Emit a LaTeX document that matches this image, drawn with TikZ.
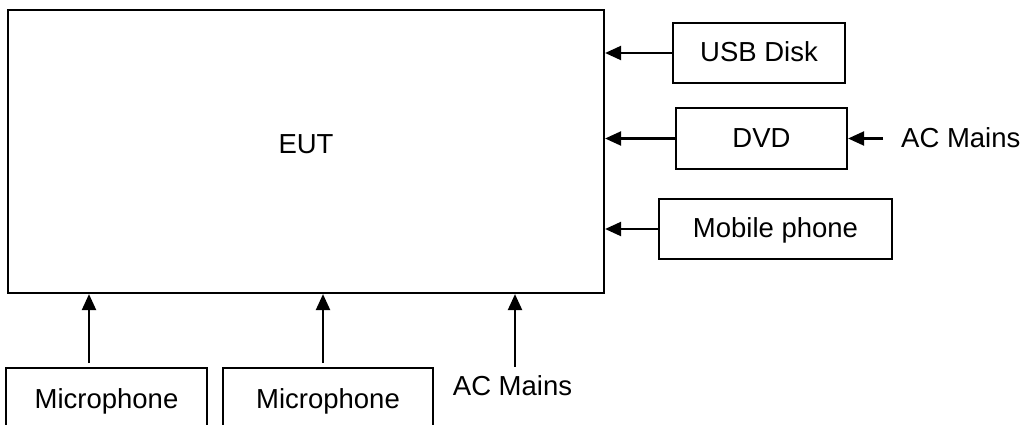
\documentclass[tikz,border=0pt]{standalone}
\usepackage{fontspec}
\setmainfont{Liberation Sans}
\usetikzlibrary{arrows.meta,calc}
\begin{document}
\begin{tikzpicture}[x=1pt,y=-1pt,
  every node/.style={font=\fontsize{27.5}{33}\selectfont},
  box/.style={draw, line width=2.2pt, inner sep=0pt, text height=20pt, text depth=3pt, align=center},
  plain/.style={inner sep=0pt, text height=20pt, text depth=6pt},
  arr/.style={line width=2.2pt, -{Triangle[length=16pt,width=14pt]}}]
\useasboundingbox (0,0) rectangle (1024,425);
\clip (0,0) rectangle (1024,425);
\node[box, minimum width=596pt, minimum height=283pt, text depth=17pt] (eut) at (306,151.5) {EUT};
\node[box, minimum width=172pt, minimum height=60pt] (usb) at (759,53) {USB Disk};
\node[box, minimum width=171pt, minimum height=61pt] (dvd) at (761.5,138.5) {DVD};
\node[box, minimum width=233pt, minimum height=60pt] (mob) at (775.5,229) {Mobile phone};
\node[plain, anchor=base west] (acr) at (901,147) {AC Mains};
\node[box, anchor=north, minimum width=201pt, minimum height=66pt, text depth=6pt] (mic1) at (106.5,367) {Microphone};
\node[box, anchor=north, minimum width=210pt, minimum height=66pt, text depth=6pt] (mic2) at (328,367) {Microphone};
\node[plain, anchor=base] (acb) at (512.5,395) {AC Mains};
% right side
\draw[arr] (usb.west) -- (usb.west -| eut.east);
\draw[arr] (dvd.west) -- (dvd.west -| eut.east);
\draw[arr] (mob.west) -- (mob.west -| eut.east);
\coordinate (acrs) at ($(dvd.east -| acr.west)+(-18,0)$);
\draw[arr] (acrs) -- (dvd.east);
% bottom
\coordinate (m1s) at ($(mic1.north)+(-17.5,-4)$);
\coordinate (m2s) at ($(mic2.north)+(-5,-4)$);
\coordinate (acbs) at ($(acb.north)+(2.5,-8)$);
\draw[arr] (m1s) -- (m1s |- eut.south);
\draw[arr] (m2s) -- (m2s |- eut.south);
\draw[arr] (acbs) -- (acbs |- eut.south);
\end{tikzpicture}
\end{document}
